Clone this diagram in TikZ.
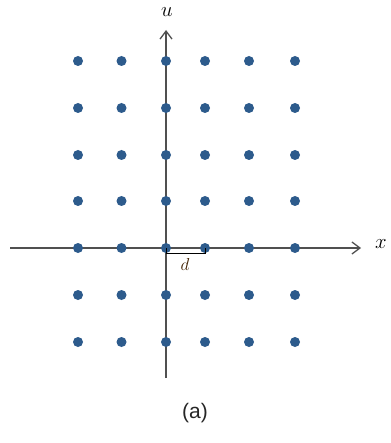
\documentclass[tikz,border=0pt]{standalone}
\usepackage{fontspec}
\newfontfamily\capfont{Liberation Sans}
\usetikzlibrary{arrows.meta,calc}
\definecolor{dotblue}{HTML}{2D5B8C}
\definecolor{axisgray}{HTML}{505050}
\tikzset{
  latdot/.style={circle,fill=dotblue,inner sep=0pt,minimum size=10pt},
  axisline/.style={draw=axisgray,line width=1.3pt},
  axislabel/.style={font=\fontsize{21}{21}\selectfont},
}
\begin{document}
\begin{tikzpicture}[x=1pt,y=-1pt]
\useasboundingbox (0,0) rectangle (390,443);
% axes
\coordinate (xs) at (10,248);
\coordinate (xe) at (361,248);
\coordinate (ys) at (166,378);
\coordinate (ye) at (166,30);
\draw[axisline,-{Straight Barb[length=8pt,width=12pt,line width=1.3pt]}] (xs) -- (xe);
\draw[axisline,-{Straight Barb[length=8pt,width=12pt,line width=1.3pt]}] (ys) -- (ye);
\node[axislabel] (xl) at (381,244) {$x$};
\node[axislabel] (ul) at (167,12) {$u$};
% dots
\foreach \cx [count=\i] in {78,121.5,166,205,249,295}{
  \foreach \cy [count=\j] in {61,108,155,201,248,295,342}{
    \node[latdot] (p\i\j) at (\cx,\cy) {};
  }
}
% d bracket
\draw[black,line width=1pt] (p35.center) |- ($(p45.center)+(0,5)$) -- (p45.center);
\node[font=\fontsize{19}{19}\selectfont,text=black!75!orange] (dl) at (185,264) {$d$};
\node[font=\capfont\fontsize{21}{21}\selectfont,text=black!85] (cap) at (195,413) {(a)};
\end{tikzpicture}
\end{document}
